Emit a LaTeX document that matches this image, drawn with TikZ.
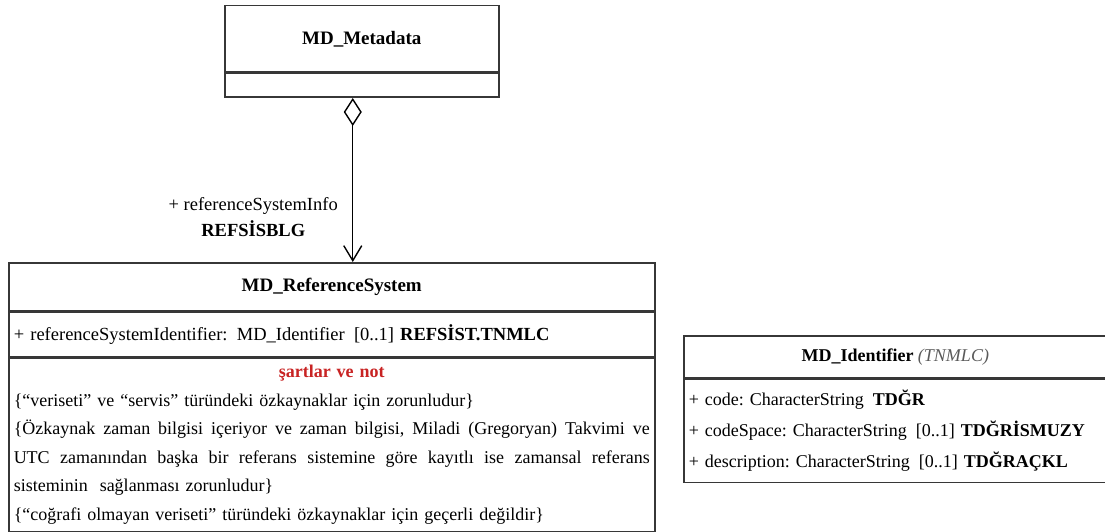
\documentclass[tikz,border=0pt]{standalone}
\usepackage{fontspec}
\setmainfont{Liberation Serif}
\usetikzlibrary{arrows.meta,positioning}

\definecolor{boxline}{RGB}{55,55,55}
\definecolor{notered}{RGB}{200,35,35}
\definecolor{typegray}{RGB}{90,90,90}
% one justified line of the notes
\newcommand\justline[1]{\leavevmode\hbox to 636pt{\spaceskip=0.25em plus 1fil\relax #1}}
\frenchspacing

\begin{document}
\begin{tikzpicture}[x=1pt,y=-1pt,
umlbox/.style={draw=boxline,line width=1.5pt,rectangle,inner xsep=5pt,inner ysep=3pt,
  font=\fontsize{18.5}{21}\selectfont},
umlhead/.style={umlbox,align=center},
umlattr/.style={umlbox,align=left,text width=#1},
assoc/.style={line width=1.4pt,{Diamond[open,length=28pt,width=18pt]}-{Straight Barb[length=15pt,width=18pt]}},
rolelabel/.style={inner sep=0pt,align=center,font=\fontsize{18.5}{26}\selectfont}]
\useasboundingbox (0,0) rectangle (1105,532);

% MD_Metadata
\node[umlhead,anchor=north west,minimum width=274pt,minimum height=66pt,
  font=\fontsize{19}{22}\selectfont] (metahead) at (224,5)
  {\textbf{MD\_Metadata}};
\node[umlbox,minimum width=274pt,minimum height=24pt,below=0pt of metahead] (metabody) {};

% MD_ReferenceSystem
\node[umlhead,anchor=north west,minimum width=646pt,minimum height=48pt,
  font=\fontsize{19}{22}\selectfont] (refhead) at (8,262)
  {\textbf{MD\_ReferenceSystem}};
\node[umlattr=636pt,minimum height=44pt,below=0pt of refhead] (refattr)
  {+ referenceSystemIdentifier:\enspace MD\_Identifier\enspace [0..1] \textbf{REFSİST.TNMLC}};
\node[umlattr=636pt,minimum height=174pt,below=0pt of refattr,
  font=\fontsize{18}{28.5}\selectfont] (refnote)
  {\makebox[\hsize][c]{\textcolor{notered}{\textbf{şartlar ve not}}}\\
   \{“veriseti” ve “servis” türündeki özkaynaklar için zorunludur\}\\
   \justline{\{Özkaynak zaman bilgisi içeriyor ve zaman bilgisi, Miladi (Gregoryan) Takvimi ve}\\
   \justline{UTC zamanından başka bir referans sistemine göre kayıtlı ise zamansal referans}\\
   sisteminin\ \ sağlanması zorunludur\}\\
   \{“coğrafi olmayan veriseti” türündeki özkaynaklar için geçerli değildir\}};

% MD_Identifier
\node[umlhead,anchor=north west,minimum width=423pt,minimum height=42pt,
  font=\fontsize{18}{21}\selectfont] (idhead) at (683,335)
  {\textbf{MD\_Identifier} \textcolor{typegray}{\textit{(TNMLC)}}};
\node[umlattr=413pt,minimum height=103pt,below=0pt of idhead,
  font=\fontsize{18}{31}\selectfont] (idattr)
  {+ code: CharacterString\enspace\textbf{TDĞR}\\
   + codeSpace: CharacterString\enspace [0..1] \textbf{TDĞRİSMUZY}\\
   + description: CharacterString\enspace [0..1] \textbf{TDĞRAÇKL}};

% association
\coordinate (assocstart) at ([xshift=-9pt]metabody.south);
\coordinate (assocend) at (assocstart |- refhead.north);
\draw[assoc] (assocstart) -- (assocend);
\node[rolelabel,anchor=east] (roleinfo) at (338,217)
  {+ referenceSystemInfo\\ \textbf{REFSİSBLG}};
\end{tikzpicture}
\end{document}
